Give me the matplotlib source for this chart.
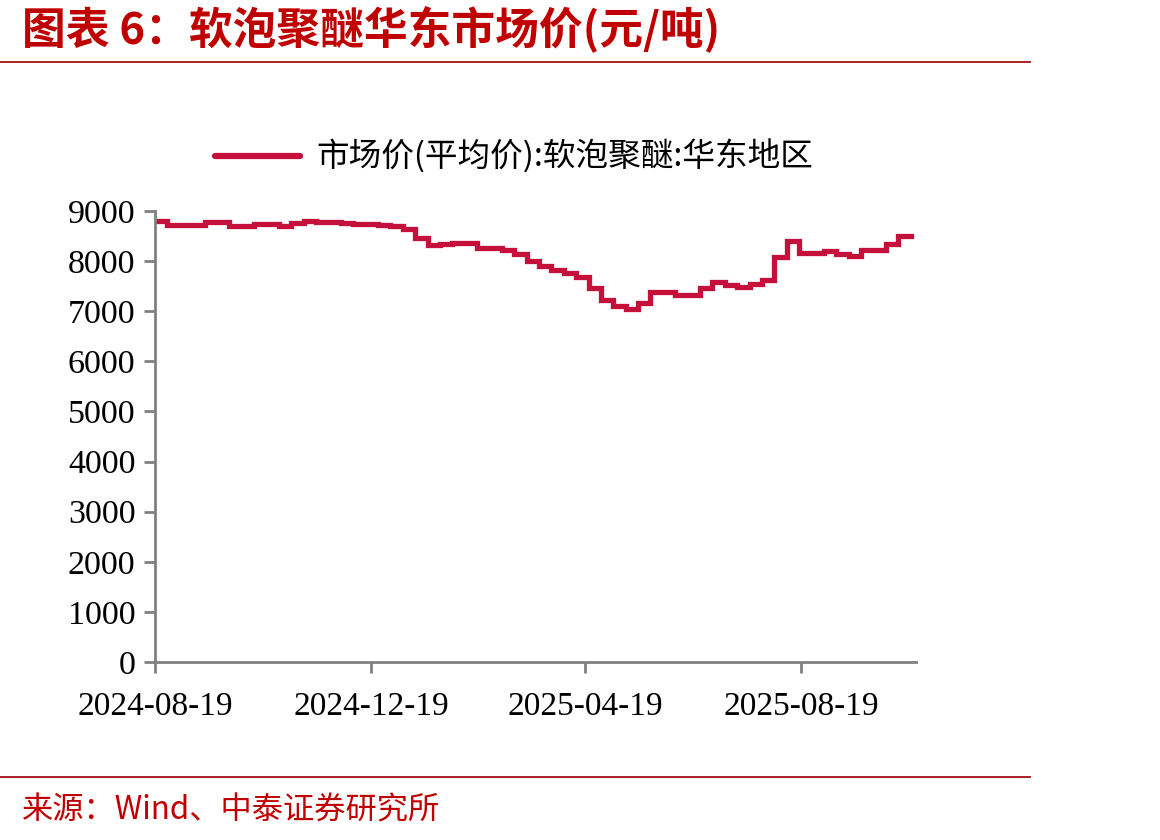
import pandas as pd
import matplotlib.pyplot as plt
import matplotlib.dates as mdates

plt.rcParams['font.family'] = ['Liberation Serif', 'Noto Sans CJK SC']

# weekly East China market price of flexible foam polyether (yuan/ton)
dates = pd.date_range('2024-08-19', periods=62, freq='7D')
prices = [8800, 8730, 8720, 8730, 8790, 8790, 8710, 8700, 8740, 8740,
          8700, 8760, 8800, 8790, 8790, 8760, 8750, 8740, 8720, 8700,
          8640, 8460, 8320, 8340, 8360, 8360, 8270, 8270, 8230, 8140,
          8000, 7910, 7820, 7770, 7690, 7460, 7230, 7100, 7040, 7170,
          7390, 7390, 7320, 7320, 7460, 7590, 7520, 7480, 7540, 7620,
          8090, 8410, 8160, 8160, 8210, 8140, 8100, 8220, 8220, 8340,
          8500, 8510]
tick_dates = pd.to_datetime(['2024-08-19', '2024-12-19', '2025-04-19', '2025-08-19'])
yticks = list(range(0, 9001, 1000))

title = '图表 6：软泡聚醚华东市场价(元/吨)'
legend_label = '市场价(平均价):软泡聚醚:华东地区'
source = '来源：Wind、中泰证券研究所'

red = '#C00000'
line_color = '#C4103A'
gray = '#808080'

fig = plt.figure(figsize=(11.6, 8.4), dpi=100)
ax = fig.add_axes([0.1336, 0.2119, 0.656, 0.5369])

ax.plot(dates, prices, color=line_color, lw=3.8, drawstyle='steps-post',
        solid_joinstyle='miter', label=legend_label)

ax.set_ylim(0, 9000)
ax.set_yticks(yticks)
ax.set_xlim(dates[0], pd.Timestamp('2025-10-23'))
ax.set_xticks(tick_dates)
ax.xaxis.set_major_formatter(mdates.DateFormatter('%Y-%m-%d'))

for side in ['top', 'right']:
    ax.spines[side].set_visible(False)
for side in ['left', 'bottom']:
    ax.spines[side].set_color(gray)
    ax.spines[side].set_linewidth(2)
ax.tick_params(axis='both', colors=gray, width=2, length=8, direction='out',
               labelcolor='black')
ax.tick_params(axis='y', labelsize=24.5, pad=6)
ax.tick_params(axis='x', labelsize=24, pad=13)

leg = ax.legend(loc='center', bbox_to_anchor=(0.472, 1.12), frameon=False,
                handlelength=2.6, handletextpad=0.5,
                prop={'family': ['Noto Sans CJK SC'], 'size': 23.5})
leg.get_lines()[0].set_linewidth(4.5)
leg.get_lines()[0].set_solid_capstyle('round')

fig.text(0.019, 0.964, title, color=red, fontsize=31.5, fontweight='bold',
         family=['Noto Sans CJK SC'], va='center', ha='left')
fig.add_artist(plt.Line2D([0, 0.888], [0.926, 0.926], color='#A01010', lw=1.3))
fig.add_artist(plt.Line2D([0, 0.888], [0.075, 0.075], color='#A01010', lw=1.3))
fig.text(0.019, 0.035, source, color=red, fontsize=22.5,
         family=['Noto Sans CJK SC'], va='center', ha='left')

fig.savefig('out.png', dpi=100)
